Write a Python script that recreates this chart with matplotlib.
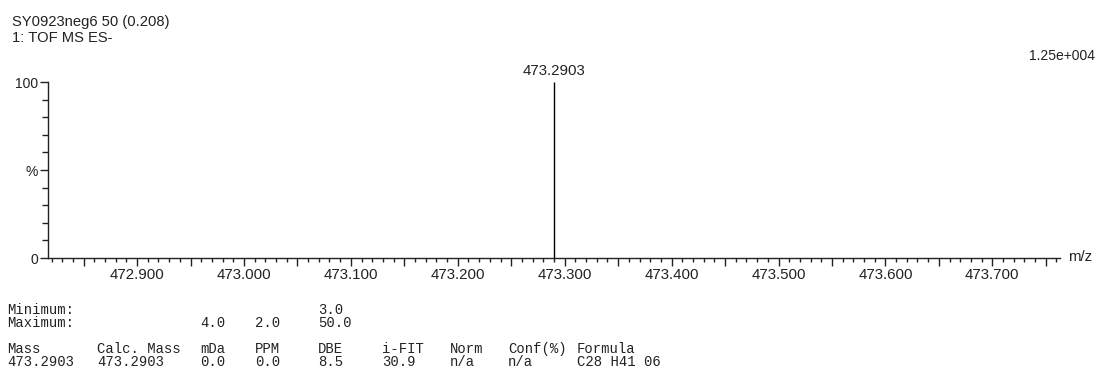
import numpy as np
import matplotlib
matplotlib.use('Agg')
import matplotlib.pyplot as plt
from matplotlib.ticker import MultipleLocator

# spectrum data
mz = [473.2903]
intensity = [100.0]
peak_labels = ['473.2903']
base_peak = '1.25e+004'
title_lines = ['SY0923neg6 50 (0.208)', '1: TOF MS ES-']

# elemental composition report
min_row = ['Minimum:', '', '', '', '3.0', '', '', '', '']
max_row = ['Maximum:', '', '4.0', '2.0', '50.0', '', '', '', '']
headers = ['Mass', 'Calc. Mass', 'mDa', 'PPM', 'DBE', 'i-FIT', 'Norm', 'Conf(%)', 'Formula']
result_row = ['473.2903', '473.2903', '0.0', '0.0', '8.5', '30.9', 'n/a', 'n/a', 'C28 H41 06']

W, H = 1099, 385
fig = plt.figure(figsize=(W / 100, H / 100), dpi=100)
ax = fig.add_axes([48 / W, (H - 258) / H, (1060 - 48) / W, (258 - 82) / H])

ink = '#222222'
sans = 'Liberation Sans'

ax.vlines(mz, 0, intensity, color='black', lw=1.0)
for x, y, s in zip(mz, intensity, peak_labels):
    ax.text(x, y + 2, s, ha='center', va='bottom', fontsize=10.8,
            family=sans, color=ink)

ax.set_xlim(472.8167, 473.7633)
ax.set_ylim(0, 100)
for sp in ['top', 'right']:
    ax.spines[sp].set_visible(False)
for sp in ['left', 'bottom']:
    ax.spines[sp].set_linewidth(1.0)
    ax.spines[sp].set_color(ink)

ax.xaxis.set_major_locator(MultipleLocator(0.05))
ax.xaxis.set_minor_locator(MultipleLocator(0.01))
ax.xaxis.set_major_formatter(plt.FuncFormatter(
    lambda v, p: '%.3f' % v if abs(round(v * 10) - v * 10) < 1e-6 else ''))
ax.tick_params(axis='x', which='major', length=6, width=1, pad=1,
               labelsize=10.8, colors=ink)
ax.tick_params(axis='x', which='minor', length=3, width=1, colors=ink)

ax.yaxis.set_minor_locator(MultipleLocator(10))
ax.set_yticks([0, 50, 100])
ax.set_yticklabels(['0', '%', '100'])
ax.tick_params(axis='y', which='major', length=6, width=1, pad=1,
               labelsize=10, colors=ink)
ax.tick_params(axis='y', which='minor', length=4, width=1, colors=ink)
for lab in ax.get_xticklabels() + ax.get_yticklabels():
    lab.set_family(sans)

fig.text(1068 / W, 1 - 257 / H, 'm/z', ha='left', va='center', fontsize=10.8,
         family=sans, color=ink)
fig.text(1095 / W, 1 - 56 / H, base_peak, ha='right', va='center', fontsize=10,
         family=sans, color=ink)
for i, line in enumerate(title_lines):
    fig.text(12 / W, 1 - (22 + 16 * i) / H, line, ha='left', va='center',
             fontsize=10.6, family=sans, color=ink)

# report table
col_x = [7, 97, 200, 255, 318, 382, 450, 508, 577]
rows = [(min_row, 310), (max_row, 323), (headers, 349), (result_row, 362)]
for row, y in rows:
    for x, s in zip(col_x, row):
        if s:
            fig.text(x / W, 1 - y / H, s, ha='left', va='center', fontsize=10,
                     family='Liberation Mono', color=ink)

fig.savefig('out.png', dpi=100, facecolor='white')
